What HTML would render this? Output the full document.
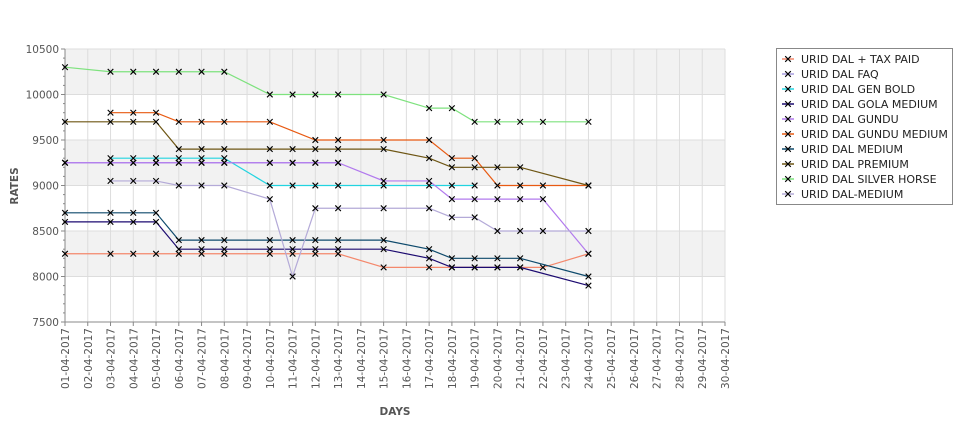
<!DOCTYPE html>
<html><head><meta charset="utf-8"><style>
body{margin:0;background:#fff;width:975px;height:429px;overflow:hidden}
svg{font-family:"DejaVu Sans","Liberation Sans",sans-serif}
</style></head><body>
<svg id="chart" width="975" height="429" xmlns="http://www.w3.org/2000/svg"></svg>
<script>
const days = ["01","02","03","04","05","06","07","08","09","10","11","12","13","14","15","16","17","18","19","20","21","22","23","24","25","26","27","28","29","30"];
const yTicks = [7500,8000,8500,9000,9500,10000,10500];
const seriesNames = ["URID DAL + TAX PAID","URID DAL FAQ","URID DAL GEN BOLD","URID DAL GOLA MEDIUM","URID DAL GUNDU","URID DAL GUNDU MEDIUM","URID DAL MEDIUM","URID DAL PREMIUM","URID DAL SILVER HORSE","URID DAL-MEDIUM"];
const seriesColors = ["#f4886c","#a99ee0","#22d4e0","#1c0a70","#b27aee","#e85a12","#0e4a6c","#6e5614","#7ee27e","#b4aad8"];
const N = null;
const taxPaid =    [8250,N,8250,8250,8250,8250,8250,8250,N,8250,8250,8250,8250,N,8100,N,8100,8100,8100,8100,8100,8100,N,8250];
const faq =        [9250,N,9250,9250,9250,9250,9250,9250,N,9250,9250,9250,9250];
const genBold =    [N,N,9300,9300,9300,9300,9300,9300,N,9000,9000,9000,9000,N,9000,N,9000,9000,9000];
const golaMedium = [8600,N,8600,8600,8600,8300,8300,8300,N,8300,8300,8300,8300,N,8300,N,8200,8100,8100,8100,8100,N,N,7900];
const gundu =      [9250,N,9250,9250,9250,9250,9250,9250,N,9250,9250,9250,9250,N,9050,N,9050,8850,8850,8850,8850,8850,N,8250];
const gunduMedium= [N,N,9800,9800,9800,9700,9700,9700,N,9700,N,9500,9500,N,9500,N,9500,9300,9300,9000,9000,9000,N,9000];
const medium =     [8700,N,8700,8700,8700,8400,8400,8400,N,8400,8400,8400,8400,N,8400,N,8300,8200,8200,8200,8200,N,N,8000];
const premium =    [9700,N,9700,9700,9700,9400,9400,9400,N,9400,9400,9400,9400,N,9400,N,9300,9200,9200,9200,9200,N,N,9000];
const silverHorse= [10300,N,10250,10250,10250,10250,10250,10250,N,10000,10000,10000,10000,N,10000,N,9850,9850,9700,9700,9700,9700,N,9700];
const dalMedium =  [N,N,9050,9050,9050,9000,9000,9000,N,8850,8000,8750,8750,N,8750,N,8750,8650,8650,8500,8500,8500,N,8500];
const seriesData = [taxPaid,faq,genBold,golaMedium,gundu,gunduMedium,medium,premium,silverHorse,dalMedium];

const svg=document.getElementById('chart');
const NS='http://www.w3.org/2000/svg';
const X0=65,X1=725,Y0=322,Y1=49,VMIN=7500,VMAX=10500;
const xS=i=>X0+i*(X1-X0)/(days.length-1);
const yS=v=>Y0-(v-VMIN)*(Y0-Y1)/(VMAX-VMIN);
function mk(tag,attrs,parent){const e=document.createElementNS(NS,tag);for(const k in attrs)e.setAttribute(k,attrs[k]);(parent||svg).appendChild(e);return e;}

const plot=mk('g',{});


for(let i=0;i<yTicks.length-1;i++){
  if(i%2===1){const r=mk('rect',{x:X0,y:yS(yTicks[i+1]),width:X1-X0,height:yS(yTicks[i])-yS(yTicks[i+1]),fill:'#f2f2f2'},plot);
  
  }
}
yTicks.forEach(v=>{const l=mk('line',{x1:X0,x2:X1,y1:yS(v),y2:yS(v),stroke:'#dddddd','stroke-width':1},plot);

});
days.forEach((d,i)=>{if(i>0){const l=mk('line',{x1:xS(i),x2:xS(i),y1:Y1,y2:Y0,stroke:'#dddddd','stroke-width':1},plot);

}});
const ax=mk('g',{});


mk('line',{x1:X0,x2:X0,y1:Y1,y2:Y0+1,stroke:'#888'},ax);
mk('line',{x1:X0,x2:X1,y1:Y0,y2:Y0,stroke:'#888'},ax);
for(let v=VMIN;v<=VMAX;v+=100){mk('line',{x1:X0-(v%500===0?4:2),x2:X0,y1:yS(v),y2:yS(v),stroke:'#888'},ax);}
yTicks.forEach(v=>{const t=mk('text',{x:X0-6,y:yS(v)+4,'text-anchor':'end','font-size':'10.5',fill:'#555'},ax);t.textContent=v;

});
days.forEach((d,i)=>{mk('line',{x1:xS(i),x2:xS(i),y1:Y0,y2:Y0+4,stroke:'#888'},ax);
const t=mk('text',{x:0,y:0,'text-anchor':'end','font-size':'10.5',fill:'#555',transform:`translate(${xS(i)+4},${Y0+6}) rotate(-90)`},ax);t.textContent=d+'-04-2017';

});
const yt=mk('text',{x:0,y:0,'text-anchor':'middle','font-size':'10.5','font-weight':'bold',fill:'#555',transform:`translate(18,186) rotate(-90)`});yt.textContent='RATES';


const xt=mk('text',{x:395,y:415,'text-anchor':'middle','font-size':'10.5','font-weight':'bold',fill:'#555'});xt.textContent='DAYS';



function cross(x,y,g,c){mk('path',{d:`M${x-2.8},${y-2.8}L${x+2.8},${y+2.8}M${x-2.8},${y+2.8}L${x+2.8},${y-2.8}`,stroke:c||'#000','stroke-width':1.1},g);}
seriesData.forEach((arr,s)=>{
  const g=mk('g',{});
  
  
  const pts=[];arr.forEach((v,i)=>{if(v!==null&&v!==undefined)pts.push([xS(i),yS(v)]);});
  const p=mk('polyline',{points:pts.map(q=>q.join(',')).join(' '),fill:'none',stroke:seriesColors[s],'stroke-width':1.2},g);
  
  
  pts.forEach(q=>cross(q[0],q[1],g));
});

const lg=mk('g',{});


mk('rect',{x:776.5,y:48.5,width:176,height:156,fill:'#fff',stroke:'#888'},lg);
seriesNames.forEach((n,i)=>{
  const y=58+i*15;
  const e=mk('g',{},lg);
  
  
  mk('line',{x1:782,x2:794,y1:y+1,y2:y+1,stroke:seriesColors[i],'stroke-width':1.5},e);
  cross(788,y+1,e,'#000');
  const t=mk('text',{x:801,y:y+5,'font-size':'11',fill:'#222'},e);t.textContent=n;
});
</script>
</body></html>
